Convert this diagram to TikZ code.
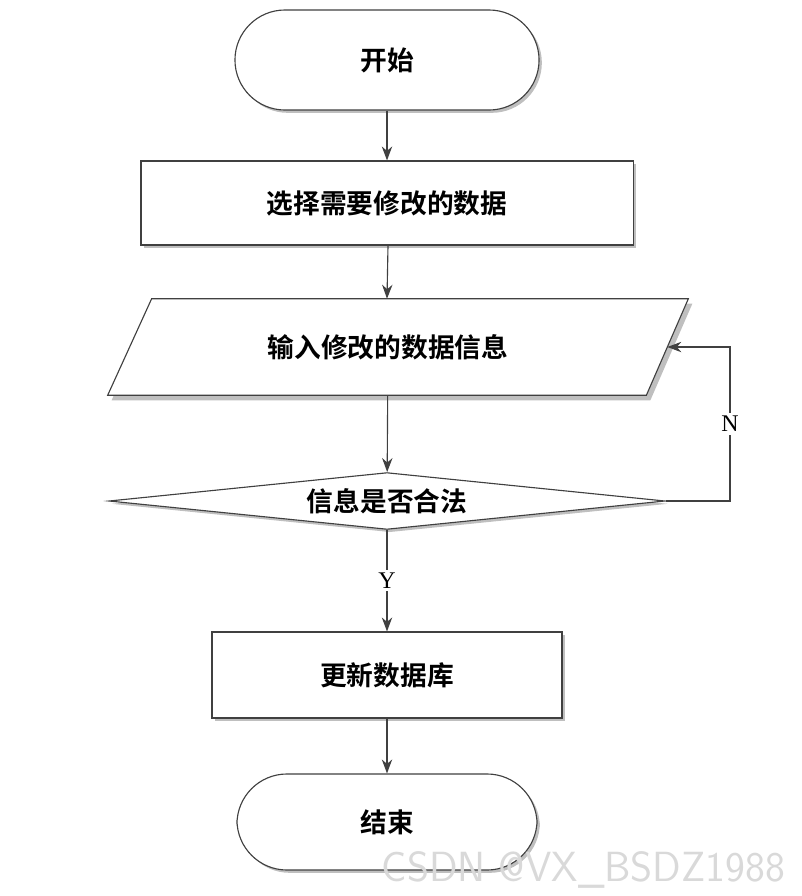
\documentclass[tikz,border=0pt]{standalone}
\usepackage{fontspec}
\setmainfont{Liberation Serif}
\newfontfamily\cjk{Noto Sans CJK SC Bold}
\usetikzlibrary{positioning,shapes.geometric,arrows.meta,calc}
\tikzset{
  box/.style={rectangle, draw=black!75, fill=white, line width=0.8pt, font=\cjk\fontsize{19}{22}\selectfont, drop shadow},
  term/.style={box, rounded corners=1.25cm},
  flow/.style={-{Stealth[length=3.5mm,width=2.6mm]}, draw=black!75, line width=0.8pt},
  lbl/.style={fill=white, font=\fontsize{17}{20}\selectfont, inner sep=2pt},
}
\usetikzlibrary{shadows}
\tikzset{every shadow/.style={fill=black!25, shadow xshift=2pt, shadow yshift=-2pt, opacity=1}}
\begin{document}
\begin{tikzpicture}[x=0.025cm, y=-0.025cm]
    \useasboundingbox (0,0) rectangle (802,896);

    % Nodes
    \node[term, minimum width=7.6cm, minimum height=2.5cm] (start) at (387,60) {开始};
    \node[box, minimum width=12.3cm, minimum height=2.1cm] (sel) at (387,203) {选择需要修改的数据};
    \node[minimum width=13.95cm, minimum height=2.4cm, inner sep=0, font=\cjk\fontsize{19}{22}\selectfont] (in) at (388,347) {\phantom{输入修改的数据信息}};
    \fill[black!25] ($(in.north west)+(45,5)$) -- ($(in.north east)+(25,5)$) -- ($(in.south east)+(-17,5)$) -- ($(in.south west)+(3,5)$) -- cycle;
    \draw[black!75, line width=0.8pt, fill=white] ($(in.north west)+(43,0)$) -- ($(in.north east)+(21,0)$) -- ($(in.south east)+(-21,0)$) -- ($(in.south west)+(-1,0)$) -- cycle;
    \node[font=\cjk\fontsize{19}{22}\selectfont] at (in) {输入修改的数据信息};
    \node[box, diamond, shape aspect=5.1, minimum width=13.9cm, inner sep=0] (chk) at (387,501) {信息是否合法};
    \node[box, minimum width=8.75cm, minimum height=2.15cm] (upd) at (387,675) {更新数据库};
    \node[term, minimum width=7.5cm, minimum height=2.4cm] (stop) at (387,822) {结束};

    % Connectors
    \draw[flow] (start) -- (sel);
    \draw[flow] (sel) -- (in.south |- sel.south) -- ($(in.north)+(-1,0)$);
    \draw[flow] (in) -- (chk);
    \draw[flow] (chk) -- node[lbl] {Y} (upd);
    \draw[flow] (upd) -- (stop);
    \coordinate (loop) at (730,501);
    \draw[flow] (chk.east) -- (loop) -- node[lbl] {N} (loop |- in.east) -- (in.east);

    % watermark
    \node[font=\sffamily\fontsize{30}{32}\selectfont, text=black!15, anchor=south east] (wm) at (790,893) {CSDN @VX\_BSDZ1988};
\end{tikzpicture}
\end{document}
